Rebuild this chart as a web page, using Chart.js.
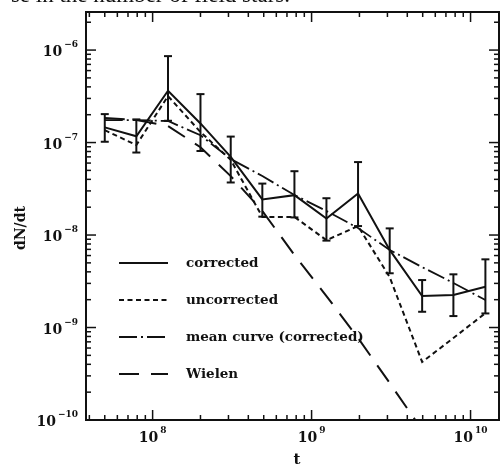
<!DOCTYPE html>
<html>
<head>
<meta charset="utf-8">
<script src="https://cdn.jsdelivr.net/npm/chart.js@4.4.0/dist/chart.umd.min.js"></script>
<style>
  html, body { margin: 0; padding: 0; background: #fff; }
  #wrap { position: relative; width: 500px; height: 466px; overflow: hidden; }
  #chart { position: absolute; left: 0; top: 0; }
  #caption { position: absolute; right: 210px; top: -17px; font: 23px/23px "Liberation Serif", serif; color: #111; white-space: nowrap; }
</style>
</head>
<body>
<div id="wrap">
  <canvas id="chart" width="500" height="466"></canvas>
  <div id="caption">se in the number of field stars.</div>
</div>
<script>
// data
const tValues = [5e7, 7.9e7, 1.25e8, 2e8, 3.1e8, 4.9e8, 7.8e8, 1.24e9, 1.96e9, 3.1e9, 4.96e9, 7.8e9, 1.24e10];
const corrected = [1.46e-7, 1.17e-7, 3.63e-7, 1.61e-7, 7.0e-8, 2.43e-8, 2.7e-8, 1.51e-8, 2.82e-8, 6.9e-9, 2.19e-9, 2.25e-9, 2.76e-9];
const corrHigh = [2.03e-7, 1.78e-7, 8.6e-7, 3.34e-7, 1.16e-7, 3.6e-8, 4.9e-8, 2.5e-8, 6.15e-8, 1.18e-8, 3.26e-9, 3.76e-9, 5.46e-9];
const corrLow = [1.02e-7, 7.8e-8, 1.72e-7, 8.1e-8, 3.7e-8, 1.58e-8, 1.55e-8, 8.7e-9, 1.25e-8, 3.86e-9, 1.48e-9, 1.33e-9, 1.42e-9];
const uncorrected = [1.36e-7, 9.4e-8, 3.18e-7, 1.3e-7, 6.5e-8, 1.57e-8, 1.57e-8, 8.8e-9, 1.25e-8, 3.5e-9, 4.24e-10, 7.7e-10, 1.43e-9];
const meanCurve = [1.75e-7, 1.75e-7, 1.71e-7, 1.2e-7, 6.64e-8, 4.34e-8, 2.71e-8, 1.82e-8, 1.19e-8, 6.9e-9, 4.5e-9, 3.03e-9, 1.98e-9];
const wielen = [1.84e-7, 1.75e-7, 1.51e-7, 8.9e-8, 4.34e-8, 1.82e-8, 6.08e-9, 2.19e-9, 7.7e-10, 2.51e-10, 7.8e-11];

const seriesNames = ['corrected', 'uncorrected', 'mean curve (corrected)', 'Wielen'];
const xTickExps = [8, 9, 10];
const yTickExps = [-10, -9, -8, -7, -6];
const xTitle = 't';
const yTitle = 'dN/dt';

const ink = '#111';
const serif = '"DejaVu Serif", serif';

function pts(ys) {
  return ys.map((y, i) => ({ x: tValues[i], y: y }));
}

function line(ctx, x1, y1, x2, y2) {
  ctx.beginPath();
  ctx.moveTo(x1, y1);
  ctx.lineTo(x2, y2);
  ctx.stroke();
}

function drawPower(ctx, exp, x, y, align) {
  const base = '10';
  const sup = String(exp).replace('-', '\u2212');
  ctx.font = 'bold 14px ' + serif;
  const wb = ctx.measureText(base).width;
  ctx.font = 'bold 9px ' + serif;
  const ws = ctx.measureText(sup).width;
  const w = wb + 2 + ws;
  let x0 = align === 'right' ? x - w : x - w / 2;
  ctx.textAlign = 'left';
  ctx.textBaseline = 'alphabetic';
  ctx.font = 'bold 14px ' + serif;
  ctx.fillText(base, x0, y);
  ctx.font = 'bold 9px ' + serif;
  ctx.fillText(sup, x0 + wb + 2, y - 9);
}

const framePlugin = {
  id: 'frame',
  afterDraw(chart) {
    const ctx = chart.ctx;
    const xs = chart.scales.x, ys = chart.scales.y;
    const { left, right, top, bottom } = chart.chartArea;
    ctx.save();
    ctx.strokeStyle = ink;
    ctx.fillStyle = ink;
    ctx.setLineDash([]);

    // error bars on the corrected points
    ctx.lineWidth = 2;
    tValues.forEach((t, i) => {
      const px = xs.getPixelForValue(t);
      const y1 = ys.getPixelForValue(corrHigh[i]);
      const y2 = ys.getPixelForValue(corrLow[i]);
      line(ctx, px, y1, px, y2);
      line(ctx, px - 4, y1, px + 4, y1);
      line(ctx, px - 4, y2, px + 4, y2);
    });

    // frame
    ctx.lineWidth = 2;
    ctx.strokeRect(left, top, right - left, bottom - top);

    // ticks, inward on all four sides
    ctx.lineWidth = 1.5;
    for (let e = 7; e <= 10; e++) {
      for (let m = 1; m <= 9; m++) {
        const v = m * Math.pow(10, e);
        if (v <= xs.min || v >= xs.max) continue;
        const px = xs.getPixelForValue(v);
        const len = m === 1 ? 10 : 5;
        line(ctx, px, bottom, px, bottom - len);
        line(ctx, px, top, px, top + len);
      }
    }
    for (let e = -10; e <= -6; e++) {
      for (let m = 1; m <= 9; m++) {
        const v = m * Math.pow(10, e);
        if (v <= ys.min || v >= ys.max) continue;
        const py = ys.getPixelForValue(v);
        const len = m === 1 ? 10 : 5;
        line(ctx, left, py, left + len, py);
        line(ctx, right, py, right - len, py);
      }
    }

    // tick labels
    xTickExps.forEach(e => {
      drawPower(ctx, e, xs.getPixelForValue(Math.pow(10, e)), 442, 'center');
    });
    yTickExps.forEach(e => {
      drawPower(ctx, e, 78, ys.getPixelForValue(Math.pow(10, e)) + 6, 'right');
    });

    // axis titles
    ctx.font = 'bold 15px ' + serif;
    ctx.textAlign = 'center';
    ctx.textBaseline = 'alphabetic';
    ctx.fillText(xTitle, 297, 464);
    ctx.save();
    ctx.translate(25, 228);
    ctx.rotate(-Math.PI / 2);
    ctx.font = 'bold 14px ' + serif;
    ctx.fillText(yTitle, 0, 0);
    ctx.restore();

    // legend inside the plot
    chart.data.datasets.forEach((ds, i) => {
      const y = 263 + 37 * i;
      ctx.lineWidth = ds.borderWidth;
      ctx.setLineDash(ds.borderDash || []);
      line(ctx, 119, y, 168, y);
      ctx.setLineDash([]);
      ctx.font = 'bold 13.5px ' + serif;
      ctx.textAlign = 'left';
      ctx.textBaseline = 'middle';
      ctx.fillText(ds.label, 186, y);
    });
    ctx.restore();
  }
};

const baseLine = { borderColor: ink, backgroundColor: ink, pointRadius: 0, tension: 0, fill: false };

new Chart(document.getElementById('chart').getContext('2d'), {
  type: 'line',
  data: {
    datasets: [
      Object.assign({ label: seriesNames[0], data: pts(corrected), borderWidth: 2, borderDash: [] }, baseLine),
      Object.assign({ label: seriesNames[1], data: pts(uncorrected), borderWidth: 2, borderDash: [5, 3.5] }, baseLine),
      Object.assign({ label: seriesNames[2], data: pts(meanCurve), borderWidth: 1.8, borderDash: [18, 4, 2, 4] }, baseLine),
      Object.assign({ label: seriesNames[3], data: pts(wielen), borderWidth: 2, borderDash: [20, 12] }, baseLine)
    ]
  },
  options: {
    responsive: false,
    animation: false,
    layout: { padding: { top: 12, right: 1, left: 0, bottom: 0 } },
    plugins: { legend: { display: false }, tooltip: { enabled: false } },
    scales: {
      x: {
        type: 'logarithmic', min: 3.81e7, max: 1.51e10, bounds: 'data',
        grid: { display: false }, border: { display: false }, ticks: { display: false },
        afterFit(s) { s.height = 46; }
      },
      y: {
        type: 'logarithmic', min: 1e-10, max: 2.58e-6, bounds: 'data',
        grid: { display: false }, border: { display: false }, ticks: { display: false },
        afterFit(s) { s.width = 86; }
      }
    }
  },
  plugins: [framePlugin]
});
</script>
</body>
</html>
